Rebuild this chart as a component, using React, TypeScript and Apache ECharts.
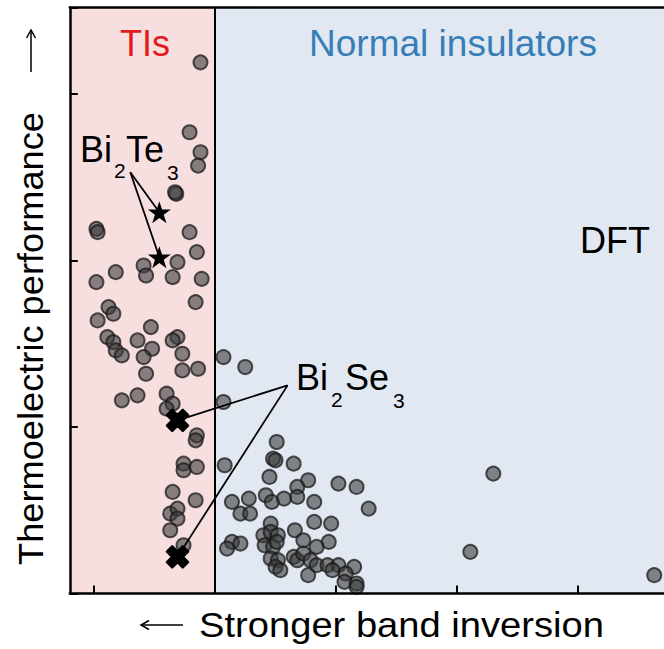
import { useEffect, useRef } from "react";
import * as echarts from "echarts";

const FONT = "'Liberation Sans', Arial, Helvetica, sans-serif";

// Band-inversion strength (x) vs thermoelectric performance (y), arbitrary units.
const tiPoints: number[][] = [
  [0.88, 3.19], [0.79, 2.77], [0.88, 2.65], [0.86, 2.57], [0.68, 2.4], [0.67, 2.41],
  [0.02, 2.19], [0.03, 2.17], [0.79, 2.17], [0.85, 2.05], [0.41, 1.97], [0.43, 1.91],
  [0.69, 1.99], [0.65, 1.9], [0.89, 1.89], [0.18, 1.93], [0.02, 1.87], [0.84, 1.75],
  [0.12, 1.72], [0.16, 1.68], [0.03, 1.64], [0.47, 1.6], [0.11, 1.54], [0.16, 1.51],
  [0.18, 1.46], [0.23, 1.43], [0.36, 1.52], [0.48, 1.47], [0.41, 1.42], [0.69, 1.54],
  [0.65, 1.52], [0.73, 1.44], [0.43, 1.32], [0.73, 1.34], [0.86, 1.35], [0.23, 1.16],
  [0.36, 1.19], [0.6, 1.2], [0.65, 1.14], [0.6, 1.11], [0.85, 0.95], [0.84, 0.92],
  [0.74, 0.78], [0.74, 0.74], [0.85, 0.76], [0.65, 0.61], [0.63, 0.48], [0.69, 0.51],
  [0.69, 0.45], [0.84, 0.56], [0.63, 0.38], [0.74, 0.29],
];

const normalPoints: number[][] = [
  [1.07, 1.42], [1.25, 1.36], [1.07, 1.15], [1.51, 0.91], [1.48, 0.81], [1.5, 0.8],
  [1.65, 0.78], [1.08, 0.77], [1.45, 0.7], [1.77, 0.68], [1.68, 0.64], [1.68, 0.58],
  [2.02, 0.66], [2.17, 0.64], [2.27, 0.51], [1.14, 0.55], [1.28, 0.57], [1.21, 0.48],
  [1.29, 0.48], [1.42, 0.59], [1.47, 0.55], [1.57, 0.57], [1.82, 0.55], [1.46, 0.42],
  [1.82, 0.43], [1.96, 0.42], [1.66, 0.38], [1.4, 0.35], [1.46, 0.37], [1.52, 0.35],
  [1.41, 0.29], [1.48, 0.28], [1.51, 0.31], [1.14, 0.31], [1.1, 0.27], [1.21, 0.3],
  [1.73, 0.32], [1.94, 0.31], [1.84, 0.28], [1.46, 0.21], [1.52, 0.2], [1.5, 0.16],
  [1.54, 0.14], [1.65, 0.22], [1.68, 0.2], [1.73, 0.24], [1.79, 0.2], [1.84, 0.17],
  [1.93, 0.17], [2.02, 0.17], [1.97, 0.14], [2.15, 0.16], [2.08, 0.12], [2.07, 0.07],
  [2.17, 0.06], [2.17, 0.04], [1.77, 0.11], [3.3, 0.72], [3.11, 0.25], [4.63, 0.11],
];

const bi2te3Points: number[][] = [[0.54, 2.29], [0.54, 2.02]];
const bi2se3Points: number[][] = [[0.69, 1.04], [0.69, 0.22]];
const bi2te3LabelAnchor = [0.3, 2.53];
const bi2se3LabelAnchor = [1.6, 1.25];

const xTicks = [0, 1, 2, 3, 4];
const X_MIN = -0.2;
const X_MAX = 5;
const Y_MIN = 0;
const Y_MAX = 3.52;
const TI_EDGE = 1;

const STAR_PATH =
  "path://M100,0L122.5,69.1L195.1,69.1L136.3,111.8L158.8,180.9L100,138.2L41.2,180.9L63.7,111.8L4.9,69.1L77.5,69.1Z";
const CROSS_PATH =
  "path://M3,0L6,3L9,0L12,3L9,6L12,9L9,12L6,9L3,12L0,9L3,6L0,3Z";

const dotStyle = {
  color: "rgba(60,60,60,0.6)",
  borderColor: "rgba(25,25,25,0.75)",
  borderWidth: 2,
  opacity: 1,
};

function leader(from: number[], to: number[]) {
  return {
    type: "line",
    data: [from, to],
    symbol: "none",
    silent: true,
    z: 4,
    lineStyle: { color: "#000", width: 1.8 },
  };
}

function txt(text: string, x: number, y: number, size: number, fill = "#000", align = "left") {
  return {
    type: "text",
    x,
    y,
    z: 100,
    style: {
      text,
      fill,
      fontSize: size,
      fontFamily: FONT,
      align,
      verticalAlign: "middle",
    },
  };
}

export default function App() {
  const ref = useRef<HTMLDivElement>(null);

  useEffect(() => {
    if (!ref.current) return;
    const chart = echarts.init(ref.current, null, { renderer: "svg" });

    const axisLine = { show: true, onZero: false, lineStyle: { color: "#000", width: 2.5 } };

    chart.setOption({
      animation: false,
      backgroundColor: "#fff",
      grid: {
        left: 69.8,
        top: 7.4,
        width: 629.2,
        height: 586.1,
        show: false,
        containLabel: false,
        outerBoundsMode: "none",
      },
      xAxis: [
        {
          type: "value",
          min: X_MIN,
          max: X_MAX,
          z: 10,
          axisLine,
          axisTick: {
            show: true,
            inside: true,
            length: 8,
            customValues: xTicks,
            lineStyle: { color: "#000", width: 2 },
          },
          axisLabel: { show: false },
          splitLine: { show: false },
        },
        {
          type: "value",
          position: "top",
          min: X_MIN,
          max: X_MAX,
          z: 10,
          axisLine,
          axisTick: { show: false },
          axisLabel: { show: false },
          splitLine: { show: false },
        },
      ],
      yAxis: {
        type: "value",
        min: Y_MIN,
        max: Y_MAX,
        interval: 1,
        z: 10,
        axisLine,
        axisTick: {
          show: true,
          inside: true,
          length: 8,
          lineStyle: { color: "#000", width: 2 },
        },
        axisLabel: { show: false },
        splitLine: { show: false },
      },
      series: [
        {
          type: "scatter",
          data: [],
          silent: true,
          z: 1,
          markArea: {
            silent: true,
            data: [
              [{ xAxis: X_MIN, itemStyle: { color: "#f7dfe0" } }, { xAxis: TI_EDGE }],
              [{ xAxis: TI_EDGE, itemStyle: { color: "#e1e8f2" } }, { xAxis: X_MAX }],
            ],
          },
          markLine: {
            silent: true,
            symbol: ["none", "none"],
            label: { show: false },
            lineStyle: { color: "#000", width: 2, type: "solid" },
            data: [{ xAxis: TI_EDGE }],
          },
        },
        {
          type: "scatter",
          data: tiPoints,
          symbol: "circle",
          symbolSize: 14,
          z: 3,
          itemStyle: dotStyle,
        },
        {
          type: "scatter",
          data: normalPoints,
          symbol: "circle",
          symbolSize: 14,
          z: 3,
          itemStyle: dotStyle,
        },
        ...bi2te3Points.map((p) => leader(bi2te3LabelAnchor, p)),
        ...bi2se3Points.map((p) => leader(bi2se3LabelAnchor, p)),
        {
          type: "scatter",
          data: bi2te3Points,
          symbol: STAR_PATH,
          symbolSize: [23, 22],
          z: 5,
          itemStyle: { color: "#000", opacity: 1 },
        },
        {
          type: "scatter",
          data: bi2se3Points,
          symbol: CROSS_PATH,
          symbolSize: 21,
          z: 5,
          itemStyle: {
            color: "#000",
            opacity: 1,
            borderColor: "#000",
            borderWidth: 2.5,
            borderJoin: "round",
          },
        },
      ],
      graphic: [
        txt("TIs", 145, 43.5, 36, "#e41a1c", "center"),
        txt("Normal insulators", 453, 43, 37, "#377eb8", "center"),
        txt("DFT", 580, 240.5, 36),
        txt("Bi", 80, 149.5, 36),
        txt("2", 114, 170.7, 21),
        txt("Te", 126, 149.5, 36),
        txt("3", 167, 172.7, 21),
        txt("Bi", 296, 377.5, 36),
        txt("2", 331, 399.7, 21),
        txt("Se", 345, 377.5, 36),
        txt("3", 393, 400.7, 21),
        {
          type: "text",
          x: 401.5,
          y: 624.9,
          scaleX: 1.09,
          style: {
            text: "Stronger band inversion",
            fill: "#000",
            fontSize: 35,
            fontFamily: FONT,
            align: "center",
            verticalAlign: "middle",
          },
        },
        {
          type: "text",
          x: 30.9,
          y: 338.5,
          rotation: Math.PI / 2,
          scaleX: 1.035,
          style: {
            text: "Thermoelectric performance",
            fill: "#000",
            fontSize: 35,
            fontFamily: FONT,
            align: "center",
            verticalAlign: "middle",
          },
        },
        {
          type: "line",
          shape: { x1: 183, y1: 625, x2: 141, y2: 625 },
          style: { stroke: "#000", lineWidth: 1.5 },
        },
        {
          type: "polyline",
          shape: { points: [[149, 620.5], [141, 625], [149, 629.5]] },
          style: { stroke: "#000", lineWidth: 1.5, fill: null },
        },
        {
          type: "line",
          shape: { x1: 31, y1: 72, x2: 31, y2: 30 },
          style: { stroke: "#000", lineWidth: 1.5 },
        },
        {
          type: "polyline",
          shape: { points: [[26.5, 38], [31, 30], [35.5, 38]] },
          style: { stroke: "#000", lineWidth: 1.5, fill: null },
        },
      ],
    });

    return () => chart.dispose();
  }, []);

  return (
    <div
      ref={ref}
      style={{ position: "fixed", left: 0, top: 0, width: 664, height: 649 }}
    />
  );
}
